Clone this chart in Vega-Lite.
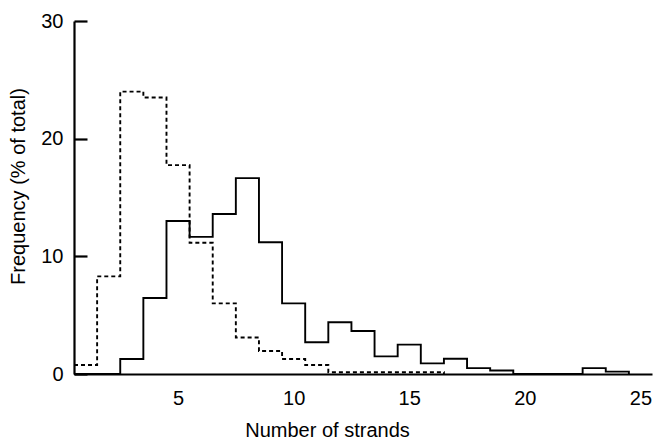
{
  "$schema": "https://vega.github.io/schema/vega-lite/v6.json",
  "width": 578,
  "height": 353,
  "autosize": {"type": "none"},
  "padding": {"left": 74, "top": 21, "right": 1, "bottom": 66},
  "background": "white",
  "config": {"view": {"stroke": null}, "font": "Liberation Sans"},
  "data": {
    "values": [
      {"series": "dashed", "strands": 0.5, "freq": 0.76},
      {"series": "dashed", "strands": 1.5, "freq": 8.3},
      {"series": "dashed", "strands": 2.5, "freq": 24.0},
      {"series": "dashed", "strands": 3.5, "freq": 23.5},
      {"series": "dashed", "strands": 4.5, "freq": 17.75},
      {"series": "dashed", "strands": 5.5, "freq": 11.15},
      {"series": "dashed", "strands": 6.5, "freq": 6.0},
      {"series": "dashed", "strands": 7.5, "freq": 3.1},
      {"series": "dashed", "strands": 8.5, "freq": 1.95},
      {"series": "dashed", "strands": 9.5, "freq": 1.27},
      {"series": "dashed", "strands": 10.5, "freq": 0.76},
      {"series": "dashed", "strands": 11.5, "freq": 0.15},
      {"series": "dashed", "strands": 12.5, "freq": 0.15},
      {"series": "dashed", "strands": 13.5, "freq": 0.15},
      {"series": "dashed", "strands": 14.5, "freq": 0.15},
      {"series": "dashed", "strands": 15.5, "freq": 0.15},
      {"series": "dashed", "strands": 16.5, "freq": 0},
      {"series": "solid", "strands": 0.5, "freq": 0},
      {"series": "solid", "strands": 1.5, "freq": 0},
      {"series": "solid", "strands": 2.5, "freq": 1.27},
      {"series": "solid", "strands": 3.5, "freq": 6.46},
      {"series": "solid", "strands": 4.5, "freq": 13.0},
      {"series": "solid", "strands": 5.5, "freq": 11.65},
      {"series": "solid", "strands": 6.5, "freq": 13.6},
      {"series": "solid", "strands": 7.5, "freq": 16.65},
      {"series": "solid", "strands": 8.5, "freq": 11.2},
      {"series": "solid", "strands": 9.5, "freq": 6.0},
      {"series": "solid", "strands": 10.5, "freq": 2.7},
      {"series": "solid", "strands": 11.5, "freq": 4.4},
      {"series": "solid", "strands": 12.5, "freq": 3.65},
      {"series": "solid", "strands": 13.5, "freq": 1.5},
      {"series": "solid", "strands": 14.5, "freq": 2.5},
      {"series": "solid", "strands": 15.5, "freq": 0.9},
      {"series": "solid", "strands": 16.5, "freq": 1.3},
      {"series": "solid", "strands": 17.5, "freq": 0.5},
      {"series": "solid", "strands": 18.5, "freq": 0.3},
      {"series": "solid", "strands": 19.5, "freq": 0},
      {"series": "solid", "strands": 20.5, "freq": 0},
      {"series": "solid", "strands": 21.5, "freq": 0},
      {"series": "solid", "strands": 22.5, "freq": 0.5},
      {"series": "solid", "strands": 23.5, "freq": 0.2},
      {"series": "solid", "strands": 24.5, "freq": 0}
    ]
  },
  "mark": {"type": "line", "interpolate": "step-after", "color": "black", "strokeWidth": 1.9, "clip": false},
  "encoding": {
    "x": {
      "field": "strands",
      "type": "quantitative",
      "scale": {"domain": [0.5, 25.5], "nice": false, "zero": false},
      "axis": {
        "values": [5, 10, 15, 20, 25],
        "ticks": false,
        "grid": false,
        "domainWidth": 2.2,
        "domainColor": "black",
        "labelFontSize": 20,
        "labelColor": "black",
        "labelPadding": 14,
        "title": "Number of strands",
        "titleFontSize": 20,
        "titleFontWeight": "normal",
        "titleColor": "black",
        "titleX": 253,
        "titleY": 62,
        "titleAlign": "center",
        "titleBaseline": "alphabetic"
      }
    },
    "y": {
      "field": "freq",
      "type": "quantitative",
      "scale": {"domain": [0, 30], "nice": false},
      "axis": {
        "values": [0, 10, 20, 30],
        "grid": false,
        "tickSize": -13,
        "tickWidth": 2.2,
        "tickColor": "black",
        "domainWidth": 2.2,
        "domainColor": "black",
        "labelFontSize": 20,
        "labelColor": "black",
        "labelPadding": 24,
        "title": "Frequency (% of total)",
        "titleFontSize": 20,
        "titleFontWeight": "normal",
        "titleColor": "black",
        "titleX": -56,
        "titleY": 165,
        "titleAlign": "center",
        "titleBaseline": "middle",
        "titleAngle": -90
      }
    },
    "strokeDash": {
      "field": "series",
      "type": "nominal",
      "scale": {"domain": ["solid", "dashed"], "range": [[1, 0], [4, 3]]},
      "legend": null
    }
  }
}
